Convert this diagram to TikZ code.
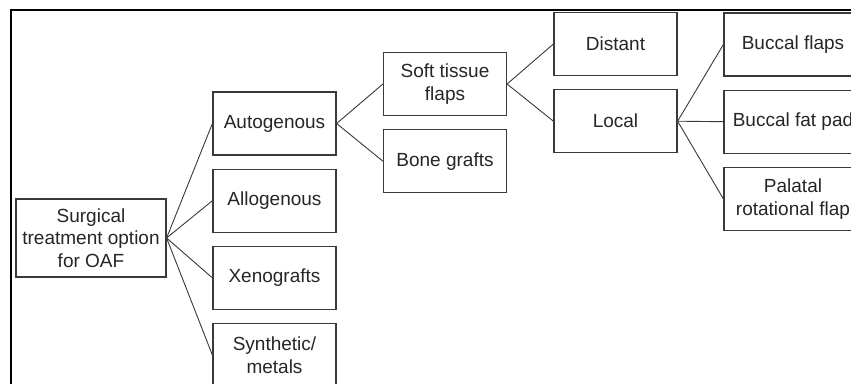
\documentclass[tikz,border=0pt]{standalone}
\usepackage{fontspec}
\setmainfont{Liberation Sans}
\usetikzlibrary{positioning}
\definecolor{boxline}{HTML}{3A3A3A}
\definecolor{txt}{HTML}{262626}
\tikzset{
  optbox/.style={rectangle, draw=boxline, line width=1.2pt, text=txt, align=center,
                 font=\fontsize{19}{22.5}\selectfont, minimum width=#1, minimum height=63pt, inner sep=2pt},
  optbox/.default=123pt,
  link/.style={draw=boxline, line width=0.9pt},
}
\begin{document}
\begin{tikzpicture}[x=1pt, y=-1pt, node distance=13pt]
     \useasboundingbox (0,0) rectangle (851,383);
     \clip (0,0) rectangle (851,383);
     \fill[white] (0,0) rectangle (851,383);
     \draw[line width=2pt] (11,10) rectangle (900,420);
     % first level
     \node[optbox=150pt, minimum height=78pt] (root) at (91,238) {Surgical\\treatment option\\for OAF};
     \node[optbox] (auto) at (274.5,123.5) {Autogenous};
     \node[optbox, below=of auto] (allo) {Allogenous};
     \node[optbox, below=of allo] (xeno) {Xenografts};
     \node[optbox, below=of xeno] (synth) {Synthetic/\\metals};
     % autogenous options
     \node[optbox] (soft) at (445,84) {Soft tissue\\flaps};
     \node[optbox, below=of soft] (bone) {Bone grafts};
     \node[optbox] (distant) at (615.5,44) {Distant};
     \node[optbox, below=of distant] (local) {Local};
     % local flaps
     \node[optbox=138pt] (buccal) at (793,44.5) {Buccal flaps};
     \node[optbox=138pt, below=of buccal] (fatpad) {Buccal fat pad};
     \node[optbox=138pt, below=of fatpad] (palatal) {Palatal\\rotational flap};
     \foreach \n in {auto,allo,xeno,synth} \draw[link] (root.east) -- (\n.west);
     \draw[link] (auto.east) -- (soft.west); \draw[link] (auto.east) -- (bone.west);
     \draw[link] (soft.east) -- (distant.west); \draw[link] (soft.east) -- (local.west);
     \foreach \n in {buccal,fatpad,palatal} \draw[link] (local.east) -- (\n.west);
   \end{tikzpicture}
\end{document}
